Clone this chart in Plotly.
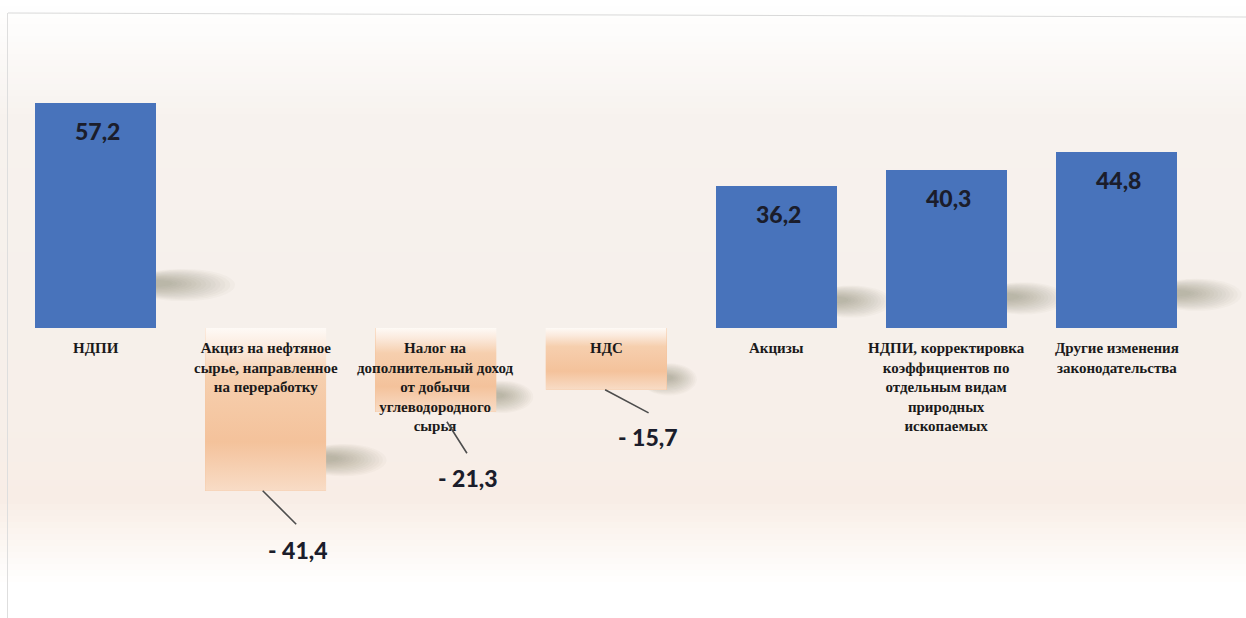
import plotly.graph_objects as go

# ---- data -------------------------------------------------------------
categories = [
    "НДПИ",
    "Акциз на нефтяное<br>сырье, направленное<br>на переработку",
    "Налог на<br>дополнительный доход<br>от добычи<br>углеводородного<br>сырья",
    "НДС",
    "Акцизы",
    "НДПИ, корректировка<br>коэффициентов по<br>отдельным видам<br>природных<br>ископаемых",
    "Другие изменения<br>законодательства",
]
values = [57.2, -41.4, -21.3, -15.7, 36.2, 40.3, 44.8]

# ---- styling ------------------------------------------------------------
W, H = 1246, 618
BAR_W = 0.71
BLUE = "#4873bb"
PEACH = "#f4c39c"
VALUE_FONT = dict(family="Lato, Open Sans, sans-serif", size=23, color="#1b1d2b", weight=900)
CAT_FONT = dict(family="Liberation Serif, Times New Roman, serif", size=15, color="#1a1a1a", weight=700)

# pixel offsets for the callouts of negative bars: (line start, line end, text centre),
# measured from the end of the bar (x right, y down)
callouts = {
    1: ((-3, 0), (32, 35), (32, 59)),
    2: ((11, 10), (32, 43), (32, 66)),
    3: ((-1, 0), (44, 24), (42, 47)),
}


def fmt(v):
    s = f"{abs(v):.1f}".replace(".", ",")
    return s if v >= 0 else "- " + s


idx = list(range(len(categories)))
fig = go.Figure()

fig.add_trace(go.Bar(
    x=idx, y=values, width=BAR_W,
    marker=dict(color=[BLUE if v > 0 else PEACH for v in values], line=dict(width=0)),
    hovertext=[c.replace("<br>", " ") for c in categories],
    hoverinfo="text+y",
    showlegend=False,
))

# soft gradient fill for the negative bars
for i, v in zip(idx, values):
    if v >= 0:
        continue
    x0, x1 = i - BAR_W / 2, i + BAR_W / 2
    fig.add_trace(go.Scatter(
        x=[x0, x1, x1, x0, x0], y=[0, 0, v, v, 0],
        mode="lines", line=dict(width=0), fill="toself",
        fillgradient=dict(
            type="vertical", start=v, stop=0,
            colorscale=[[0, "#f8dcc6"], [0.3, "#f4c29b"], [0.7, "#f6cfae"],
                        [0.88, "#fbeadd"], [1, "#fefaf6"]],
        ),
        hoverinfo="skip", showlegend=False,
    ))

shapes = []

# page background: white top and bottom, warm cream in the middle
bg_stops = [
    (0, (255, 255, 255)), (30, (253, 252, 251)), (120, (247, 242, 238)),
    (300, (246, 240, 235)), (420, (247, 239, 233)), (500, (248, 237, 230)),
    (545, (252, 247, 243)), (585, (255, 255, 255)), (618, (255, 255, 255)),
]


def bg_at(py):
    for (p0, c0), (p1, c1) in zip(bg_stops, bg_stops[1:]):
        if p0 <= py <= p1:
            t = (py - p0) / (p1 - p0)
            return tuple(round(a + (b - a) * t) for a, b in zip(c0, c1))
    return bg_stops[-1][1]


step = 6
for py in range(0, H, step):
    r, g, b = bg_at(py + step / 2)
    shapes.append(dict(
        type="rect", xref="paper", yref="paper", layer="below",
        x0=0, x1=1, y0=1 - (py + step) / H, y1=1 - py / H,
        fillcolor=f"rgb({r},{g},{b})", line=dict(width=0),
    ))

# thin frame at the top and left
shapes.append(dict(type="line", xref="paper", yref="paper", layer="below",
                   x0=8 / W, x1=1, y0=1 - 13 / H, y1=1 - 17 / H,
                   line=dict(color="#d9d9d9", width=1)))
shapes.append(dict(type="line", xref="paper", yref="paper", layer="below",
                   x0=7.5 / W, x1=7.5 / W, y0=0, y1=1 - 13 / H,
                   line=dict(color="#dedede", width=1)))

# blurred cast shadows to the right of each bar
n_layers = 14
for i, v in zip(idx, values):
    bottom, h = min(0, v), abs(v)
    cy = bottom + 0.2 * h
    xr = i + BAR_W / 2
    ext = 0.0069 * h + 0.07
    for k in range(n_layers):
        f = 1 - 0.85 * k / n_layers
        shapes.append(dict(
            type="circle", xref="x", yref="y", layer="below",
            x0=xr - 0.15, x1=xr + ext * f,
            y0=cy - 4.6 * f, y1=cy + 3.6 * f,
            fillcolor="rgb(100,85,72)", opacity=0.032, line=dict(width=0),
        ))

annotations = []

# category captions under the zero line
for i, c in zip(idx, categories):
    annotations.append(dict(
        x=i, y=0, xref="x", yref="y", text=c, showarrow=False,
        yanchor="top", yshift=-10, align="center", font=CAT_FONT,
    ))

# value labels
for i, v in zip(idx, values):
    if v > 0:
        annotations.append(dict(
            x=i, y=v, xref="x", yref="y", text=fmt(v), showarrow=False,
            yanchor="middle", yshift=-28, xshift=2, font=VALUE_FONT,
        ))
    else:
        (sx, sy), (ex, ey), (tx, ty) = callouts[i]
        annotations.append(dict(
            x=i, y=v, xref="x", yref="y", text="", showarrow=True,
            xshift=sx, yshift=-sy, ax=ex - sx, ay=ey - sy,
            arrowhead=0, arrowwidth=1.6, arrowcolor="#4d4d4d",
            standoff=0, startstandoff=0,
        ))
        annotations.append(dict(
            x=i, y=v, xref="x", yref="y", text=fmt(v), showarrow=False,
            xshift=tx, yshift=-ty, yanchor="middle", font=VALUE_FONT,
        ))

# axis ranges: category spacing 170.2 px, first centre at 95.5 px,
# zero line at 328 px, 3.93 px per unit
px_per_cat, first_px = 170.2, 95.5
px_per_unit, zero_px = 3.93, 328
x_range = [-first_px / px_per_cat, (W - first_px) / px_per_cat]
y_range = [-(H - zero_px) / px_per_unit, zero_px / px_per_unit]

fig.update_layout(
    width=W, height=H,
    margin=dict(l=0, r=0, t=0, b=0),
    paper_bgcolor="white", plot_bgcolor="white",
    shapes=shapes, annotations=annotations,
    xaxis=dict(range=x_range, visible=False, fixedrange=True),
    yaxis=dict(range=y_range, visible=False, fixedrange=True, zeroline=False),
    bargap=0, showlegend=False,
)

fig.write_html("out.html", config={"displayModeBar": False})
